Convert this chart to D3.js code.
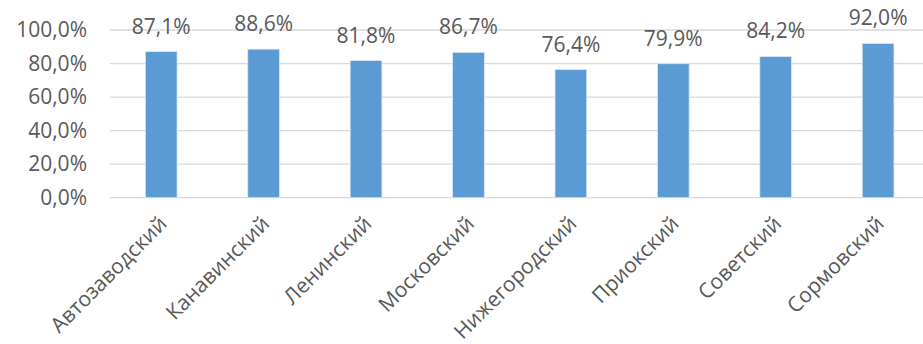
<!DOCTYPE html>
<html><head><meta charset="utf-8">
<script src="https://cdn.jsdelivr.net/npm/d3@7"></script>
<style>body{margin:0;background:#fff}svg{display:block}</style>
</head><body>
<svg id="c" width="923" height="344"></svg>
<script>
const categories = ["Автозаводский","Канавинский","Ленинский","Московский","Нижегородский","Приокский","Советский","Сормовский"];
const values = [87.1, 88.6, 81.8, 86.7, 76.4, 79.9, 84.2, 92.0];
const yTicks = [0, 20, 40, 60, 80, 100];

const svg = d3.select("#c");
const font = "'Open Sans', sans-serif";
const textColor = "#595959";
const fmt = v => v.toFixed(1).replace(".", ",") + "%";

const x = d3.scaleBand().domain(categories).range([110, 929.3]).paddingInner(0.69).paddingOuter(0.345);
const y = d3.scaleLinear().domain([0, 100]).range([197.7, 30]);

// gridlines
svg.append("g").selectAll("line").data(yTicks).join("line")
  .attr("x1", 110).attr("x2", 923)
  .attr("y1", d => y(d)).attr("y2", d => y(d))
  .attr("stroke", "#d9d9d9").attr("stroke-width", 1.3);

// y labels
svg.append("g").selectAll("text").data(yTicks).join("text")
  .attr("x", 87).attr("y", d => y(d) + 7)
  .attr("text-anchor", "end")
  .attr("font-family", font).attr("font-size", 21).attr("fill", textColor)
  .text(d => fmt(d));

// bars
svg.append("g").selectAll("rect").data(values).join("rect")
  .attr("x", (d, i) => x(categories[i]))
  .attr("width", x.bandwidth())
  .attr("y", d => y(d))
  .attr("height", d => y(0) - y(d))
  .attr("fill", "#5b9bd5")
  .attr("stroke", "#dbe8f5").attr("stroke-width", 0.8);

// data labels
svg.append("g").selectAll("text").data(values).join("text")
  .attr("x", (d, i) => x(categories[i]) + x.bandwidth() / 2)
  .attr("y", d => y(d) - 18)
  .attr("text-anchor", "middle")
  .attr("font-family", font).attr("font-size", 21).attr("fill", textColor)
  .text(d => fmt(d));

// category labels
svg.append("g").selectAll("text").data(categories).join("text")
  .attr("transform", d => `translate(${x(d) + x.bandwidth() / 2 + 7},${225}) rotate(-45)`)
  .attr("text-anchor", "end")
  .attr("font-family", font).attr("font-size", 21).attr("fill", textColor)
  .text(d => d);
</script>
</body></html>
